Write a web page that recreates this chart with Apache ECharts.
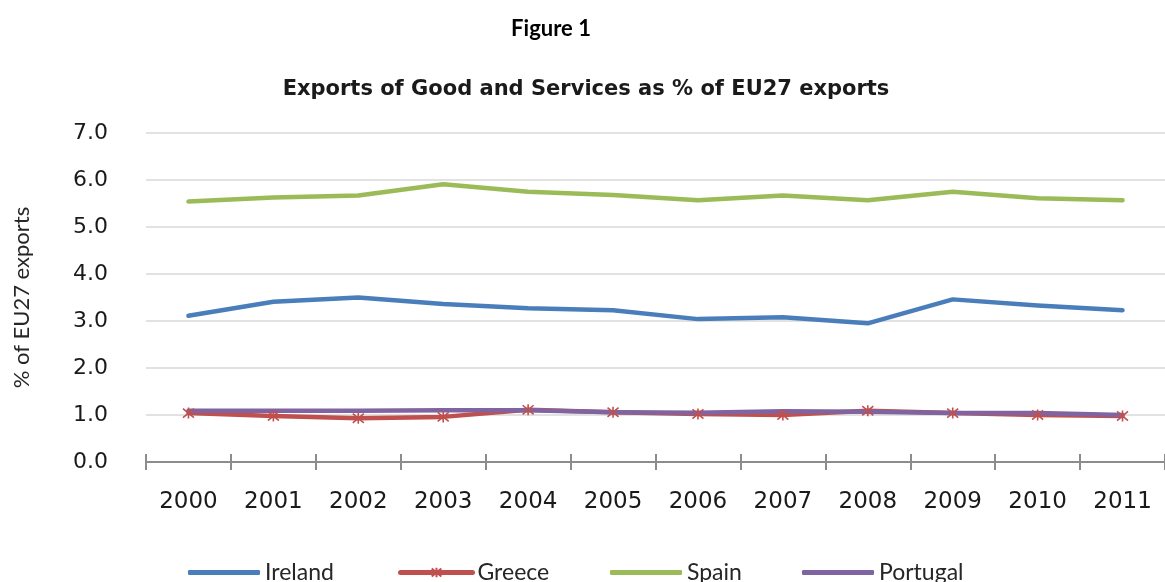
<!DOCTYPE html>
<html>
<head>
<meta charset="utf-8">
<title>Exports of Good and Services as % of EU27 exports</title>
<script src="https://cdn.jsdelivr.net/npm/echarts@6/dist/echarts.min.js"></script>
<style>
  html, body { margin: 0; padding: 0; background: #ffffff; }
  #chart { width: 1165px; height: 582px; }
</style>
</head>
<body>
<div id="chart"></div>
<script>
// Share of EU27 exports of goods and services, by country (%)
const years = ['2000', '2001', '2002', '2003', '2004', '2005', '2006', '2007', '2008', '2009', '2010', '2011'];
const ireland  = [3.11, 3.41, 3.50, 3.36, 3.27, 3.23, 3.04, 3.08, 2.95, 3.46, 3.33, 3.23];
const greece   = [1.04, 0.98, 0.93, 0.96, 1.11, 1.06, 1.02, 1.00, 1.09, 1.04, 1.00, 0.98];
const spain    = [5.54, 5.63, 5.67, 5.91, 5.75, 5.68, 5.57, 5.67, 5.57, 5.75, 5.61, 5.57];
const portugal = [1.09, 1.09, 1.09, 1.10, 1.10, 1.06, 1.05, 1.08, 1.07, 1.04, 1.04, 1.00];
const seriesNames = ['Ireland', 'Greece', 'Spain', 'Portugal'];

const colors = { Ireland: '#4A7EBB', Greece: '#C0504D', Spain: '#9BBB59', Portugal: '#8064A2' };
const asterisk = 'path://M0,0L10,10M10,0L0,10M5,-1L5,11';

const chart = echarts.init(document.getElementById('chart'), null, { renderer: 'canvas' });

function lineSeries(name, values, withMarker) {
  return {
    name: name,
    type: 'line',
    data: values,
    symbol: withMarker ? asterisk : 'none',
    symbolSize: withMarker ? 11 : 0,
    showSymbol: !!withMarker,
    lineStyle: { color: colors[name], width: 4.5, cap: 'round', join: 'round' },
    itemStyle: withMarker
      ? { color: 'rgba(0,0,0,0)', borderColor: colors[name], borderWidth: 1.6 }
      : { color: colors[name] },
    emphasis: { disabled: true },
    animation: false
  };
}

const legendText = { fontFamily: 'Lato', fontSize: 23, color: '#262626' };
const legendLefts = [183, 393, 605, 797];

// one legend block per series so each key sits at its own spot along the bottom
const legends = seriesNames.map((n, i) => {
  const marked = n === 'Greece';
  return {
    data: [marked ? { name: n } : { name: n, icon: 'roundRect' }],
    left: legendLefts[i],
    top: 556,
    itemWidth: 72,
    itemHeight: marked ? 12 : 5,
    itemGap: 6,
    textStyle: legendText,
    lineStyle: { width: 5, cap: 'round' },
    selectedMode: false
  };
});

chart.setOption({
  animation: false,
  title: [
    {
      text: 'Figure 1',
      left: 546, top: 13, textAlign: 'center',
      textStyle: { fontFamily: 'Lato', fontWeight: 'bold', fontSize: 22, color: '#000' }
    },
    {
      text: 'Exports of Good and Services as % of EU27 exports',
      left: 581, top: 74, textAlign: 'center',
      textStyle: { fontFamily: 'DejaVu Sans', fontWeight: 'bold', fontSize: 21, color: '#1a1a1a' }
    }
  ],
  legend: legends,
  grid: { left: 146, top: 133, width: 1023, height: 329, containLabel: false },
  xAxis: [
    {
      type: 'category',
      data: years,
      boundaryGap: true,
      position: 'bottom',
      axisLine: { show: true, lineStyle: { color: '#8c8c8c', width: 2 } },
      axisTick: { show: true, inside: false, length: 8, lineStyle: { color: '#8c8c8c', width: 2 } },
      axisLabel: { margin: 29, fontFamily: 'DejaVu Sans', fontSize: 23, color: '#1a1a1a' },
      splitLine: { show: false }
    },
    {
      type: 'category',
      data: years,
      boundaryGap: true,
      position: 'bottom',
      offset: 0,
      axisLine: { show: false },
      axisTick: { show: true, inside: true, length: 8, lineStyle: { color: '#8c8c8c', width: 2 } },
      axisLabel: { show: false },
      splitLine: { show: false }
    }
  ],
  yAxis: {
    type: 'value',
    min: 0, max: 7, interval: 1,
    name: '% of EU27 exports',
    nameLocation: 'middle',
    nameRotate: 90,
    nameGap: 113,
    nameTextStyle: { fontFamily: 'Lato', fontSize: 22, color: '#262626' },
    axisLine: { show: false },
    axisTick: { show: false },
    axisLabel: {
      margin: 38,
      fontFamily: 'DejaVu Sans', fontSize: 22, color: '#1a1a1a',
      formatter: v => v.toFixed(1)
    },
    splitLine: { show: true, lineStyle: { color: '#d9d9d9', width: 1.5 } }
  },
  series: [
    lineSeries('Ireland', ireland, false),
    lineSeries('Greece', greece, true),
    lineSeries('Spain', spain, false),
    lineSeries('Portugal', portugal, false)
  ]
});
</script>
</body>
</html>
